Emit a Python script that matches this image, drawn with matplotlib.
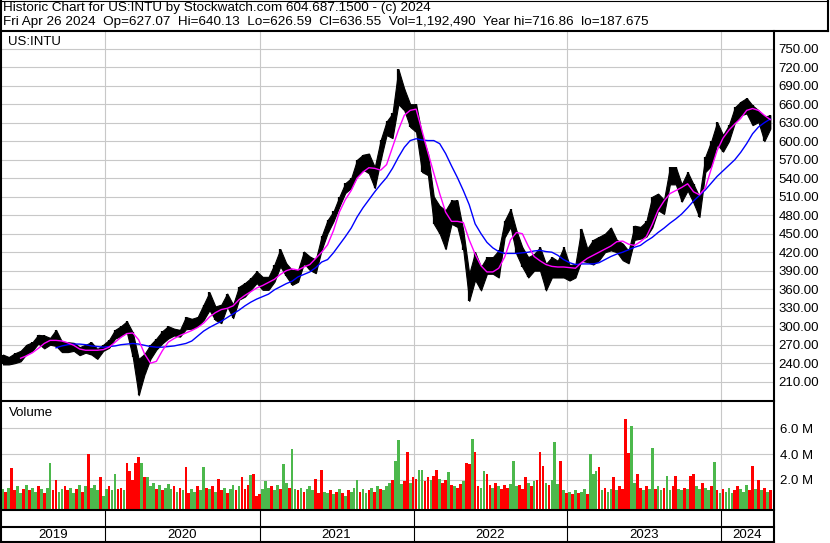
import numpy as np
import pandas as pd
import matplotlib
matplotlib.use("Agg")
import matplotlib.pyplot as plt
import matplotlib.dates as mdates
from matplotlib.lines import Line2D

plt.rcParams['font.family'] = ['Liberation Sans', 'DejaVu Sans']

header1 = "Historic Chart for US:INTU by Stockwatch.com 604.687.1500 - (c) 2024"
header2 = ("Fri Apr 26 2024  Op=627.07  Hi=640.13  Lo=626.59  Cl=636.55  "
           "Vol=1,192,490  Year hi=716.86  lo=187.675")
symbol = "US:INTU"

# price range (low / high) read every second week, last point Apr 26 2024
price_dates = pd.date_range(end="2024-04-26", periods=131, freq="14D")
price_lo = [238, 238, 240, 243, 255, 260, 272, 264, 270, 268,
            258, 258, 260, 253, 257, 254, 247, 260, 265, 280,
            284, 290, 250, 188, 222, 247, 262, 272, 280, 285,
            283, 295, 296, 300, 310, 326, 310, 305, 332, 313,
            343, 348, 359, 370, 359, 359, 372, 397, 381, 367,
            372, 402, 391, 386, 424, 451, 470, 494, 516, 524,
            543, 554, 548, 524, 570, 610, 605, 660, 650, 623,
            615, 550, 545, 466, 450, 425, 466, 461, 423, 341,
            375, 358, 385, 385, 379, 444, 461, 417, 396, 379,
            390, 390, 358, 379, 379, 379, 374, 379, 406, 404,
            400, 407, 420, 423, 420, 407, 402, 440, 442, 445,
            460, 488, 482, 530, 530, 502, 520, 500, 477, 550,
            560, 595, 583, 600, 630, 642, 645, 626, 631, 600,
            620]
price_hi = [254, 250, 256, 260, 270, 274, 286, 285, 281, 294,
            275, 274, 273, 266, 270, 274, 263, 270, 278, 294,
            300, 308, 290, 247, 255, 270, 280, 292, 300, 296,
            294, 315, 312, 315, 335, 355, 332, 335, 353, 335,
            364, 370, 378, 389, 380, 380, 400, 425, 402, 391,
            391, 421, 413, 408, 446, 472, 486, 510, 532, 540,
            570, 578, 580, 558, 602, 632, 645, 717, 685, 660,
            660, 610, 580, 510, 495, 488, 504, 504, 455, 385,
            420, 396, 412, 412, 423, 471, 490, 455, 428, 412,
            417, 428, 401, 412, 406, 428, 399, 401, 458, 426,
            440, 445, 450, 460, 440, 434, 422, 463, 461, 470,
            510, 515, 505, 558, 558, 530, 550, 530, 510, 575,
            600, 631, 610, 626, 655, 664, 670, 658, 650, 640,
            642]

nan = np.nan
ma_fast = [nan, nan, nan, 248, 252, 257, 264, 272, 277, 277,
           276, 273, 269, 263, 261, 261, 261, 262, 266, 274,
           282, 288, 289, 278, 255, 240, 243, 260, 274, 280,
           285, 289, 293, 298, 305, 315, 322, 327, 329, 333,
           343, 350, 356, 362, 366, 371, 376, 384, 390, 393,
           391, 396, 400, 410, 420, 432, 455, 485, 505, 520,
           540, 550, 557, 556, 553, 562, 590, 618, 642, 650,
           652, 617, 582, 548, 515, 485, 470, 470, 468, 440,
           417, 398, 388, 388, 394, 412, 440, 452, 450, 430,
           413, 406, 400, 397, 396, 396, 395, 394, 403, 410,
           415, 420, 425, 430, 437, 438, 433, 431, 437, 445,
           465, 488, 503, 515, 520, 525, 531, 518, 513, 524,
           555, 585, 605, 618, 628, 637, 650, 653, 650, 642,
           635]
ma_slow = [nan, nan, nan, nan, nan, nan, nan, nan, nan, 265,
           268, 270, 271, 271, 270, 268, 267, 266, 267, 268,
           270, 271, 272, 271, 269, 267, 266, 266, 267, 268,
           270, 272, 276, 284, 292, 298, 303, 308, 314, 320,
           326, 333, 339, 344, 348, 352, 359, 364, 369, 373,
           380, 384, 388, 395, 404, 408, 419, 432, 445, 459,
           477, 492, 505, 518, 530, 541, 556, 574, 590, 601,
           604, 602, 601, 601, 596, 580, 560, 541, 520, 497,
           466, 450, 436, 427, 421, 418, 418, 418, 419, 420,
           422, 423, 421, 420, 415, 408, 403, 400, 401, 401,
           401, 403, 408, 413, 417, 420, 424, 428, 431, 438,
           444, 452, 459, 467, 474, 482, 492, 503, 512, 521,
           532, 543, 552, 561, 570, 582, 596, 612, 623, 630,
           636]

# weekly volume in millions, g = up week, r = down week
vol_dates = pd.date_range(end="2024-04-26", periods=261, freq="7D")
volume = [1.3, 1.1, 1.4, 2.9, 1.2, 1.5, 1.0, 1.3, 1.6, 1.2,
          1.4, 1.1, 1.5, 1.3, 1.0, 1.4, 3.3, 1.2, 2.0, 1.1,
          1.3, 1.5, 1.2, 1.4, 1.0, 1.3, 1.6, 1.1, 1.5, 4.0,
          1.4, 1.6, 1.2, 2.2, 0.8, 1.3, 1.5, 1.2, 2.5, 1.3,
          1.4, 1.2, 3.3, 2.7, 2.0, 3.3, 3.8, 3.3, 2.2, 2.2,
          1.5, 1.8, 1.3, 1.6, 1.2, 1.4, 1.7, 1.3, 1.5, 1.1,
          1.4, 1.2, 3.0, 1.0, 1.3, 1.1, 1.5, 1.2, 3.0, 1.4,
          1.3, 1.5, 1.1, 2.1, 1.2, 1.4, 1.0, 1.3, 1.6, 1.2,
          1.5, 2.2, 1.3, 1.6, 2.4, 2.5, 0.8, 0.9, 1.3, 1.9,
          1.4, 1.5, 1.2, 1.6, 1.3, 3.2, 1.8, 1.4, 4.4, 1.3,
          1.2, 1.4, 1.1, 1.3, 1.5, 1.2, 2.1, 1.0, 2.8, 1.1,
          1.0, 1.2, 0.9, 1.1, 1.3, 1.0, 0.8, 1.2, 1.1, 1.4,
          2.0, 1.1, 1.3, 1.0, 1.2, 1.4, 1.1, 1.5, 1.3, 1.2,
          1.5, 1.8, 2.0, 3.5, 5.1, 1.7, 1.9, 4.2, 1.8, 2.2,
          2.1, 2.8, 2.8, 1.9, 2.2, 2.0, 2.3, 2.8, 2.1, 1.8,
          2.0, 2.6, 1.6, 1.5, 1.4, 1.7, 1.9, 3.3, 3.2, 5.2,
          4.2, 1.5, 1.4, 2.7, 2.5, 1.6, 1.4, 1.8, 1.5, 1.3,
          1.6, 1.4, 1.7, 3.5, 1.5, 1.6, 1.3, 2.2, 1.8, 1.5,
          1.9, 2.0, 4.2, 3.1, 1.8, 1.6, 2.0, 4.9, 1.7, 3.5,
          1.2, 1.0, 1.1, 0.9, 1.2, 1.0, 1.1, 1.3, 0.9, 4.0,
          2.5, 2.7, 3.0, 1.2, 1.4, 1.1, 1.3, 2.2, 1.2, 1.5,
          1.3, 6.7, 4.1, 6.2, 1.8, 2.5, 1.4, 1.2, 1.5, 1.3,
          4.5, 1.3, 1.5, 1.2, 1.4, 2.3, 1.2, 1.5, 2.3, 1.3,
          1.2, 1.4, 1.3, 2.3, 2.5, 1.5, 1.3, 1.8, 1.4, 1.2,
          1.5, 3.4, 1.2, 1.0, 1.3, 1.1, 1.4, 1.0, 1.2, 1.5,
          1.3, 1.1, 1.6, 1.2, 3.1, 1.3, 2.0, 1.2, 1.4, 1.1,
          1.2]
vol_dir = ("grgrrggrgr" "ggrgrggrrg" "grrggrgrgr" "gggrggrggr" "rgrrrrrgrg"
           "ggrgrgggrg" "rgrrggrggr" "grgrrgrggr" "grrrgrrrgg" "grggrggrgg"
           "rgrgggrrrg" "grgrgrgrgg" "grggrgrgrg" "ggrgggrrgr" "rggrrgrrgr"
           "rgrgrrgrrg" "rrggrrgrgr" "rrgggrrrgr" "grrrgrgggr" "grgrgrggrg"
           "ggrgrggrgr" "rrrggrrgrg" "grggrggrrg" "grgrrggrgg" "rgrgrgggrr"
           "gggrrgrgrg" "r")

price_ticks = list(range(210, 751, 30))
vol_ticks = [2, 4, 6]
vol_labels = ["2.0 M", "4.0 M", "6.0 M"]
years = [2019, 2020, 2021, 2022, 2023, 2024]

W, H = 830, 543
GRID = '#c8c8c8'
FS = 9.5
FS_HEAD = 9.7


def box(x0, y0, x1, y1):
    return [x0 / W, 1 - y1 / H, (x1 - x0) / W, (y1 - y0) / H]


fig = plt.figure(figsize=(W / 100, H / 100), dpi=100)
fig.patch.set_facecolor('white')

view0 = pd.Timestamp("2019-04-28 12:00")
view1 = pd.Timestamp("2024-05-02 12:00")
year_starts = [pd.Timestamp(f"{y}-01-01") for y in years[1:]]

# price panel
ax_p = fig.add_axes(box(1, 31, 773, 401))
ax_p.set_xlim(view0, view1)
ax_p.set_ylim(178.7, 778.7)
ax_p.set_yticks(price_ticks)
ax_p.set_yticklabels([f"{t:.2f}" for t in price_ticks])
ax_p.yaxis.tick_right()
ax_p.tick_params(axis='y', length=0, pad=4, labelsize=FS)
ax_p.set_xticks([])
ax_p.grid(axis='y', color=GRID, lw=0.8)
for d in year_starts:
    ax_p.axvline(d, color=GRID, lw=0.8, zorder=0)
for s in ax_p.spines.values():
    s.set_visible(False)

ax_p.fill_between(price_dates, price_lo, price_hi, color='black', lw=0.8, zorder=2)
ax_p.vlines(price_dates, price_lo, price_hi, color='black', lw=1.6, zorder=2)
ax_p.plot(price_dates, ma_slow, color='#0000ff', lw=1.0, zorder=3)
ax_p.plot(price_dates, ma_fast, color='#ff00ff', lw=1.0, zorder=3)

# volume panel
vbot = -0.32
ax_v = fig.add_axes(box(1, 402, 773, 510))
ax_v.set_xlim(view0, view1)
ax_v.set_ylim(vbot, 8.03)
ax_v.set_yticks(vol_ticks)
ax_v.set_yticklabels(vol_labels)
ax_v.yaxis.tick_right()
ax_v.tick_params(axis='y', length=0, pad=5, labelsize=FS)
ax_v.set_xticks([])
ax_v.grid(axis='y', color=GRID, lw=0.8)
for d in year_starts:
    ax_v.axvline(d, color=GRID, lw=0.8, zorder=0)
for s in ax_v.spines.values():
    s.set_visible(False)
colors = ['#ff0000' if c == 'r' else '#4cb84c' for c in vol_dir]
ax_v.bar(vol_dates, np.array(volume) - vbot, bottom=vbot, width=6.4,
         color=colors, lw=0, zorder=2)

# year row
ax_yr = fig.add_axes(box(1, 527, 773, 542))
ax_yr.set_xlim(view0, view1)
ax_yr.set_ylim(0, 1)
ax_yr.axis('off')
for y in years:
    a = max(pd.Timestamp(f"{y}-01-01"), view0)
    b = min(pd.Timestamp(f"{y + 1}-01-01"), view1)
    ax_yr.text(a + (b - a) / 2, 0.5, str(y), ha='center', va='center', fontsize=FS)
    if y > years[0]:
        ax_yr.axvline(pd.Timestamp(f"{y}-01-01"), color='black', lw=0.8)

ax_e = fig.add_axes(box(1, 511, 773, 527))
ax_e.set_xlim(view0, view1)
ax_e.axis('off')
for d in year_starts:
    ax_e.axvline(d, color='black', lw=0.8)

# frame and header
ov = fig.add_axes([0, 0, 1, 1], zorder=10)
ov.set_xlim(0, W)
ov.set_ylim(H, 0)
ov.axis('off')
thick, thin = 1.5, 0.8
for xs, ys, lw in [((0, 828), (0.5, 0.5), thin),
                   ((827.5, 827.5), (0, 31), thick),
                   ((1, 1), (0, H), thick),
                   ((0, 828), (31, 31), thick),
                   ((774, 774), (31, H), thick),
                   ((0, 774), (401, 401), thick),
                   ((0, 774), (510, 510), thick),
                   ((0, 774), (527, 527), thick),
                   ((0, 774), (542, 542), thick)]:
    ov.add_line(Line2D(xs, ys, color='black', lw=lw))

ov.text(3, 8, header1, fontsize=FS_HEAD, va='center', ha='left')
ov.text(3, 22, header2, fontsize=FS_HEAD, va='center', ha='left')
ov.text(8, 42, symbol, fontsize=FS, va='center', ha='left')
ov.text(9, 413, "Volume", fontsize=FS, va='center', ha='left')

fig.savefig("out.png", dpi=100, facecolor='white')
